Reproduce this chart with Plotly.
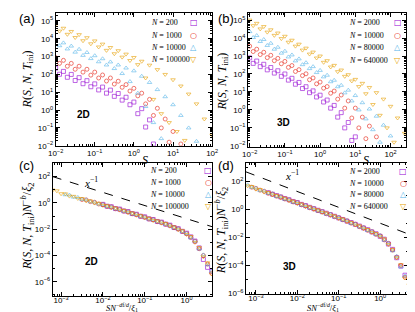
import plotly.graph_objects as go

# ---------------- data: log10 values ----------------
N_2d = ["200", "1000", "10000", "100000"]
N_3d = ["2000", "10000", "80000", "640000"]
colors = ["#9400D3", "#E51E10", "#56B4E9", "#E69F00"]
symbols = ["square-open", "circle-open", "triangle-up-open", "triangle-down-open"]
key_glyphs = ["\u25A1", "\u25CB", "\u25B3", "\u25BD"]

# (a) 2D : log10 S and log10 R(S,N,T_ini)
logS_a = [-2.0, -1.9, -1.8, -1.7, -1.6, -1.5, -1.4, -1.3, -1.2, -1.1, -1.0, -0.9, -0.8, -0.7,
          -0.6, -0.5, -0.4, -0.3, -0.2, -0.1, 0.0, 0.1, 0.2, 0.3, 0.4, 0.5, 0.6, 0.7, 0.8, 0.9,
          1.0, 1.1, 1.2, 1.3, 1.4, 1.5, 1.6, 1.7, 1.8, 1.9, 2.0]
logR_a_N200 = [2.35, 2.01, 2.17, 1.84, 2.0, 1.66, 1.82, 1.48, 1.65, 1.31, 1.47, 1.13, 1.29, 0.95,
               1.12, 0.77, 0.93, 0.56, 0.72, 0.3, 0.45, -0.2, 0.08, -0.95, -0.55, -1.9]
logR_a_N1000 = [2.95, 2.62, 2.79, 2.46, 2.62, 2.29, 2.46, 2.13, 2.29, 1.96, 2.13, 1.8, 1.97, 1.63,
                1.8, 1.46, 1.62, 1.28, 1.43, 1.07, 1.22, 0.8, 0.95, 0.35, 0.6, -0.3, 0.1, -1.0,
                -0.5, -1.8, -1.2, None, -1.9]
logR_a_N10000 = [3.95, 3.61, 3.77, 3.43, 3.59, 3.25, 3.41, 3.07, 3.23, 2.89, 3.05, 2.71, 2.88, 2.53,
                 2.7, 2.33, 2.53, 2.05, 2.36, 1.6, 2.2, 0.95, 1.9, 0.2, 1.55, -0.7, 1.15, -1.6,
                 0.75, None, 0.3, None, -0.3, None, -1.0, None, -1.75]
logR_a_N100000 = [4.77, 4.43, 4.59, 4.25, 4.41, 4.07, 4.23, 3.89, 4.06, 3.72, 3.88, 3.54, 3.7, 3.35,
                  3.51, 3.16, 3.33, 2.97, 3.14, 2.78, 2.95, 2.55, 2.74, 1.8, 2.52, 0.6, 2.27, -0.2,
                  2.0, -0.7, 1.7, -1.2, 1.35, -1.7, 0.9, None, 0.35, None, -0.5, None, -1.4]

# (b) 3D
logS_b = [-2.0, -1.9, -1.8, -1.7, -1.6, -1.5, -1.4, -1.3, -1.2, -1.1, -1.0, -0.9, -0.8, -0.7,
          -0.6, -0.5, -0.4, -0.3, -0.2, -0.1, 0.0, 0.1, 0.2, 0.3, 0.4, 0.5, 0.6, 0.7, 0.8, 0.9,
          1.0, 1.1, 1.2, 1.3, 1.4, 1.5, 1.6, 1.7, 1.8, 1.9, 2.0, 2.1, 2.2, 2.3, 2.4, 2.5]
logR_b_N2000 = [2.9, 2.59, 2.72, 2.41, 2.54, 2.23, 2.36, 2.05, 2.18, 1.87, 2.0, 1.66, 1.76, 1.43,
                1.53, 1.19, 1.29, 0.96, 1.06, 0.72, 0.82, 0.44, 0.55, 0.1, 0.25, -0.4, -0.15, -1.0,
                -0.7, -1.7, -1.5]
logR_b_N10000 = [3.55, 3.25, 3.38, 3.08, 3.21, 2.91, 3.04, 2.74, 2.87, 2.57, 2.7, 2.37, 2.47, 2.14,
                 2.24, 1.91, 2.01, 1.68, 1.78, 1.45, 1.55, 1.21, 1.3, 0.93, 1.05, 0.6, 0.83, 0.1,
                 0.5, -0.45, 0.1, -1.0, -0.4, -1.6, -0.9, None, -1.5]
logR_b_N80000 = [4.36, 4.03, 4.14, 3.81, 3.92, 3.59, 3.71, 3.38, 3.49, 3.16, 3.27, 2.95, 3.06, 2.73,
                 2.84, 2.52, 2.63, 2.3, 2.41, 2.08, 2.2, 1.84, 1.93, 1.57, 1.65, 1.29, 1.37, 0.95,
                 1.1, 0.5, 0.8, 0.0, 0.4, -0.5, 0.05, -1.1, -0.35, -1.8, -0.85, None, -1.45]
logR_b_N640000 = [5.0, 4.69, 4.82, 4.51, 4.64, 4.33, 4.46, 4.15, 4.28, 3.97, 4.1, 3.77, 3.88, 3.55,
                  3.66, 3.33, 3.44, 3.11, 3.22, 2.89, 3.0, 2.65, 2.74, 2.39, 2.48, 2.13, 2.22, 1.87,
                  1.96, 1.61, 1.7, 1.3, 1.48, 0.9, 1.25, 0.3, 0.96, -0.3, 0.6, -1.0, 0.2, -1.8,
                  -0.45, None, -1.3]

# (c),(d) scaled variable: log10 of S N^{-df/d}/xi1 and of the rescaled R
logX_cd = [-3.3, -3.2, -3.1, -3.0, -2.9, -2.8, -2.7, -2.6, -2.5, -2.4, -2.3, -2.2, -2.1, -2.0,
           -1.9, -1.8, -1.7, -1.6, -1.5, -1.4, -1.3, -1.2, -1.1, -1.0, -0.9, -0.8, -0.7, -0.6,
           -0.5, -0.4, -0.3, -0.2, -0.1, 0.0, 0.1, 0.2, 0.3, 0.4, 0.5, 0.6, 0.7]
logY_c_N200 = [None, None, None, None, None, None, None, None, None, None, None, None, None,
               -0.11, -0.25, -0.29, -0.43, -0.47, -0.61, -0.66, -0.81, -0.86, -1.01, -1.06, -1.21,
               -1.26, -1.41, -1.46, -1.61, -1.69, -1.87, -1.96, -2.16, -2.3, -2.58, -2.9, -3.42,
               -4.3, -4.9, -5.2]
logY_c_N1000 = [None, None, None, None, None, None, None, None,
                0.26, 0.23, 0.1, 0.05, -0.08, -0.13, -0.26, -0.31, -0.44, -0.49, -0.62, -0.68,
                -0.82, -0.88, -1.02, -1.08, -1.22, -1.28, -1.42, -1.48, -1.62, -1.71, -1.88, -1.98,
                -2.17, -2.33, -2.62, -2.92, -3.48, -4.0, -4.65, -5.35]
logY_c_N10000 = [None, None, None, None,
                 0.62, 0.6, 0.44, 0.42, 0.27, 0.24, 0.09, 0.06, -0.09, -0.12, -0.27, -0.3, -0.45,
                 -0.48, -0.63, -0.67, -0.83, -0.87, -1.03, -1.07, -1.23, -1.27, -1.43, -1.47, -1.63,
                 -1.7, -1.89, -1.97, -2.18, -2.32, -2.65, -2.9, -3.5, -3.95, -4.7, -5.2]
logY_c_N100000 = [1.2, 0.98, 0.92, 0.7, 0.69, 0.52, 0.5, 0.34, 0.33, 0.16, 0.15, -0.01, -0.03, -0.19,
                  -0.21, -0.37, -0.39, -0.55, -0.57, -0.74, -0.77, -0.94, -0.97, -1.14, -1.17, -1.34,
                  -1.37, -1.54, -1.57, -1.77, -1.83, -2.04, -2.12, -2.4, -2.56, -3.0, -3.4, -4.1,
                  -4.55, -5.4, -5.9]
logY_d_N2000 = [None, None, None, None, None, None,
                1.21, 1.1, 1.0, 0.9, 0.79, 0.7, 0.58, 0.5, 0.37, 0.28, 0.16, 0.06, -0.05, -0.15,
                -0.26, -0.37, -0.48, -0.6, -0.71, -0.83, -0.93, -1.06, -1.18, -1.32, -1.44, -1.6,
                -1.73, -1.92, -2.12, -2.47, -2.85, -3.45, -4.05, -4.7]
logY_d_N10000 = [None, None,
                 1.6, 1.52, 1.39, 1.31, 1.17, 1.1, 0.96, 0.9, 0.76, 0.69, 0.55, 0.49, 0.34, 0.27,
                 0.13, 0.06, -0.08, -0.15, -0.3, -0.36, -0.51, -0.58, -0.73, -0.81, -0.97, -1.05,
                 -1.22, -1.31, -1.48, -1.58, -1.77, -1.88, -2.17, -2.42, -2.9, -3.4, -4.0, -4.85]
logY_d_N80000 = [1.8, 1.77, 1.58, 1.54, 1.36, 1.33, 1.15, 1.13, 0.94, 0.92, 0.74, 0.71, 0.53, 0.5,
                 0.32, 0.29, 0.11, 0.08, -0.1, -0.13, -0.32, -0.34, -0.53, -0.56, -0.75, -0.79,
                 -0.99, -1.03, -1.24, -1.29, -1.5, -1.56, -1.79, -1.86, -2.19, -2.41, -2.95, -3.35,
                 -4.1, -4.75, -5.8]
logY_d_N640000 = [1.88, 1.7, 1.65, 1.46, 1.43, 1.25, 1.22, 1.05, 1.01, 0.84, 0.81, 0.63, 0.6, 0.43,
                  0.39, 0.21, 0.18, 0.0, -0.03, -0.21, -0.25, -0.42, -0.46, -0.64, -0.68, -0.87,
                  -0.92, -1.11, -1.17, -1.37, -1.43, -1.64, -1.72, -1.94, -2.1, -2.5, -2.85, -3.45,
                  -3.95, -4.9, -5.4]

# x^-1 guide lines (log10 endpoints)
guide_c_logx = [-3.2, 0.61]
guide_c_logy = [2.0, -1.81]
guide_d_logx = [-3.24, 0.68]
guide_d_logy = [2.7, -1.75]

# tick labels (decade exponents)
dec_x_a = [-2, -1, 0, 1, 2]
dec_x_b = [-2, -1, 0, 1, 2]
dec_y_ab = [-2, -1, 0, 1, 2, 3, 4, 5]
dec_x_cd = [-3, -2, -1, 0]
dec_y_cd = [-6, -4, -2, 0, 2]
dec_y_cd_minor = [-7, -5, -3, -1, 1, 3]

# ---------------- figure ----------------
W, H = 415, 312


def pts(grid, vals):
    xs, ys = [], []
    for g, v in zip(grid, vals):
        if v is not None:
            xs.append(10 ** g)
            ys.append(10 ** v)
    return xs, ys


def sup(e):
    return "10<sup>" + ("\u2212" + str(-e) if e < 0 else str(e)) + "</sup>"


fig = go.Figure()

panels = [
    ("x", "y", logS_a, [logR_a_N200, logR_a_N1000, logR_a_N10000, logR_a_N100000], N_2d),
    ("x2", "y2", logS_b, [logR_b_N2000, logR_b_N10000, logR_b_N80000, logR_b_N640000], N_3d),
    ("x3", "y3", logX_cd, [logY_c_N200, logY_c_N1000, logY_c_N10000, logY_c_N100000], N_2d),
    ("x4", "y4", logX_cd, [logY_d_N2000, logY_d_N10000, logY_d_N80000, logY_d_N640000], N_3d),
]
for xa, ya, grid, series, names in panels:
    for i, vals in enumerate(series):
        xs, ys = pts(grid, vals)
        fig.add_trace(go.Scatter(
            x=xs, y=ys, mode="markers", xaxis=xa, yaxis=ya, showlegend=False,
            name="N = " + names[i], opacity=0.85,
            marker=dict(symbol=symbols[i], size=4, color=colors[i], line=dict(width=0.7)),
        ))

for xa, ya, gx, gy in [("x3", "y3", guide_c_logx, guide_c_logy), ("x4", "y4", guide_d_logx, guide_d_logy)]:
    fig.add_trace(go.Scatter(
        x=[10 ** v for v in gx], y=[10 ** v for v in gy], mode="lines", xaxis=xa, yaxis=ya,
        showlegend=False, line=dict(color="black", width=1, dash="dash"),
    ))

tickfont = dict(family="Liberation Sans", size=8, color="black")


def log_axis(domain, rng, decs, anchor, minor_vals=None, standoff=0):
    if minor_vals is None:
        minor_vals = []
        for e in range(int(rng[0]) - 1, int(rng[1]) + 1):
            for m in range(2, 10):
                minor_vals.append(m * 10 ** e)
    return dict(
        type="log", domain=domain, range=rng, anchor=anchor,
        showline=True, linecolor="black", linewidth=1, mirror="allticks",
        ticks="inside", ticklen=4, tickwidth=0.8, tickcolor="black",
        showgrid=False, zeroline=False, tickfont=tickfont, ticklabelstandoff=standoff,
        tickmode="array", tickvals=[10 ** e for e in decs], ticktext=[sup(e) for e in decs],
        minor=dict(tickmode="array", tickvals=minor_vals, ticks="inside", ticklen=2,
                   tickwidth=0.6, tickcolor="black", showgrid=False),
    )


def px_x(p):
    return p / W


def px_y(p):
    return 1 - p / H


cd_minor = [10 ** e for e in dec_y_cd_minor]

fig.update_layout(
    width=W, height=H, margin=dict(l=0, r=0, t=0, b=0),
    paper_bgcolor="white", plot_bgcolor="white", showlegend=False,
    xaxis=log_axis([px_x(41), px_x(203)], [-2, 2], dec_x_a, "y"),
    yaxis=log_axis([px_y(140), px_y(5)], [-2, 5.45], dec_y_ab, "x"),
    xaxis2=log_axis([px_x(240), px_x(404)], [-2.05, 2.45], dec_x_b, "y2"),
    yaxis2=log_axis([px_y(141), px_y(5)], [-2.05, 5.4], dec_y_ab, "x2"),
    xaxis3=log_axis([px_x(38), px_x(203)], [-3.2, 0.61], dec_x_cd, "y3", standoff=-4),
    yaxis3=log_axis([px_y(293), px_y(158)], [-7.1, 3.0], dec_y_cd, "x3", cd_minor),
    xaxis4=log_axis([px_x(238), px_x(406)], [-3.24, 0.68], dec_x_cd, "y4", standoff=-4),
    yaxis4=log_axis([px_y(291), px_y(158)], [-6.07, 3.3], dec_y_cd, "x4", cd_minor),
)

ann = []
serif = "Liberation Serif"


def paper_text(x, y, text, size, family=serif, angle=0, xanchor="center", color="black"):
    ann.append(dict(x=px_x(x), y=px_y(y), xref="paper", yref="paper", text=text,
                    showarrow=False, textangle=angle, xanchor=xanchor, yanchor="middle",
                    font=dict(family=family, size=size, color=color)))


# panel labels
for lab, x, y in [("(a)", 11, 11), ("(b)", 217, 11), ("(c)", 11, 160), ("(d)", 217, 160)]:
    paper_text(x, y, lab, 13, family="Liberation Sans")
# 2D / 3D
for lab, x, y in [("<b>2D</b>", 70, 108), ("<b>3D</b>", 277, 116), ("<b>2D</b>", 78, 258), ("<b>3D</b>", 283, 263)]:
    paper_text(x, y, lab, 10, family="Liberation Sans")

# axis titles
rtitle = "<i>R</i>(<i>S</i>, <i>N</i>, <i>T</i><sub>ini</sub>)"
paper_text(12, 73, rtitle, 12, angle=-90)
paper_text(214, 75, rtitle, 12, angle=-90)
paper_text(12, 222, rtitle + "<i>N</i><sup>\u2212<i>b</i></sup>/<i>\u03be</i><sub>2</sub>", 12, angle=-90)
paper_text(213, 226, rtitle + "<i>N</i><sup>\u2212<i>b</i></sup>/<i>\u03be</i><sub>2</sub>", 12, angle=-90)
paper_text(133, 154, "<i>S</i>", 12)
paper_text(362, 154, "<i>S</i>", 12)
xt = "<i>SN</i><sup>\u2212<i>d</i>f/<i>d</i></sup>/<i>\u03be</i><sub>1</sub>"
paper_text(110, 304, xt, 8.5)
paper_text(318, 304, xt, 8.5)

# keys (legend rows)
for names, tx, sx, ys in [
    (N_2d, 138, 184, [15, 27.5, 40, 52.5]),
    (N_3d, 343, 395, [15, 27.7, 40.3, 53]),
    (N_2d, 137, 199, [165, 177.5, 190, 202]),
    (N_3d, 343, 401, [166, 178, 190, 202]),
]:
    for i, n in enumerate(names):
        paper_text(tx, ys[i], "<i>N</i> = " + n, 8, xanchor="left")
        paper_text(sx, ys[i], key_glyphs[i], 8, family="DejaVu Sans", color=colors[i])

# x^-1 labels (log axis coordinates)
ann.append(dict(x=-2.28, y=1.62, xref="x3", yref="y3", text="<i>x</i><sup>\u22121</sup>",
                showarrow=False, font=dict(family=serif, size=11, color="black")))
ann.append(dict(x=-2.14, y=2.47, xref="x4", yref="y4", text="<i>x</i><sup>\u22121</sup>",
                showarrow=False, font=dict(family=serif, size=11, color="black")))

fig.update_layout(annotations=ann)
fig.write_html("out.html")
